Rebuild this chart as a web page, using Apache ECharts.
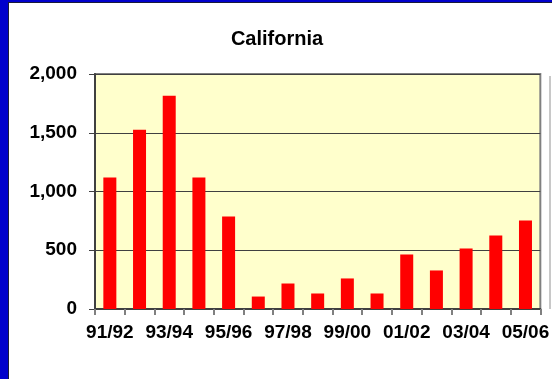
<!DOCTYPE html>
<html>
<head>
<meta charset="utf-8">
<script src="https://cdn.jsdelivr.net/npm/echarts@6/dist/echarts.min.js"></script>
<style>
  html, body { margin: 0; padding: 0; background: #ffffff; }
  #chart { width: 552px; height: 379px; }
</style>
</head>
<body>
<div id="chart"></div>
<script>
// School years shown on the category axis
const seasons = ['91/92', '92/93', '93/94', '94/95', '95/96', '96/97', '97/98', '98/99',
                 '99/00', '00/01', '01/02', '02/03', '03/04', '04/05', '05/06'];
// Yearly totals for California
const totals = [1120, 1525, 1815, 1120, 787, 106, 217, 132, 260, 132, 464, 328, 515, 626, 753];
// Value axis range
const yMin = 0;
const yMax = 2000;
const yStep = 500;

const font = '"Liberation Sans", Arial, sans-serif';

const chart = echarts.init(document.getElementById('chart'), null, { renderer: 'canvas' });

chart.setOption({
  backgroundColor: '#ffffff',
  animation: false,
  title: {
    text: 'California',
    left: 272,
    top: 24,
    textAlign: 'center',
    textStyle: { fontFamily: font, fontSize: 20, fontWeight: 'bold', color: '#000000' }
  },
  graphic: [
    // blue frame strips at the left and top
    { type: 'rect', shape: { x: 0, y: 0, width: 8, height: 379 }, style: { fill: '#0000CC' }, z: 10 },
    { type: 'rect', shape: { x: 0, y: 0, width: 552, height: 2 }, style: { fill: '#0000CC' }, z: 10 },
    { type: 'rect', shape: { x: 8, y: 2, width: 1, height: 377 }, style: { fill: '#1a1a3a' }, z: 10 },
    { type: 'rect', shape: { x: 8, y: 2, width: 544, height: 1 }, style: { fill: '#1a1a3a' }, z: 10 },
    // soft shadow on the right of the plot area
    { type: 'rect', shape: { x: 549, y: 76, width: 2, height: 233 }, style: { fill: '#c8c8c8' }, z: 1 }
  ],
  grid: {
    left: 95, right: 4, top: 74, bottom: 70,
    show: true,
    backgroundColor: '#FFFFCC',
    borderColor: '#808080',
    borderWidth: 2
  },
  xAxis: {
    type: 'category',
    data: seasons,
    boundaryGap: true,
    axisLine: { show: true, lineStyle: { color: '#404040', width: 2 } },
    axisTick: { show: true, interval: 0, length: 6, lineStyle: { color: '#808080', width: 2 } },
    axisLabel: {
      interval: 1,
      margin: 14,
      fontFamily: font,
      fontSize: 19,
      fontWeight: 'bold',
      color: '#000000'
    }
  },
  yAxis: {
    type: 'value',
    min: yMin,
    max: yMax,
    interval: yStep,
    axisLine: { show: true, lineStyle: { color: '#404040', width: 2 } },
    axisTick: { show: true, length: 6, lineStyle: { color: '#404040', width: 1 } },
    splitLine: { show: true, lineStyle: { color: '#404040', width: 1 } },
    axisLabel: {
      margin: 18,
      fontFamily: font,
      fontSize: 19,
      fontWeight: 'bold',
      color: '#000000',
      formatter: v => v.toLocaleString('en-US')
    }
  },
  series: [{
    type: 'bar',
    data: totals,
    barWidth: 13,
    itemStyle: { color: '#FF0000' }
  }]
});
</script>
</body>
</html>
